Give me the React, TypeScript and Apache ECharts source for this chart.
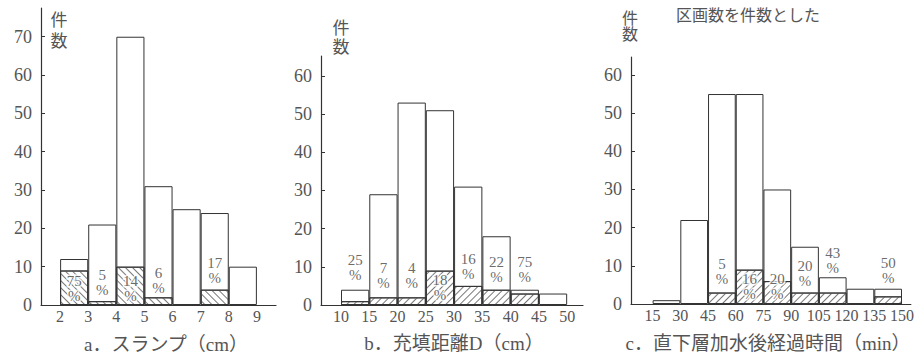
import React, { useEffect, useRef } from "react";
import * as echarts from "echarts";

// ---------- data ----------
const edgesA = [2, 3, 4, 5, 6, 7, 8, 9];
const totalA = [12, 21, 70, 31, 25, 24, 10];
const hatchA = [9, 1, 10, 2, 0, 4, 0];
const pctA = [75, 5, 14, 6, null, 17, null];
const pctYA = [4.4, 6, 4.4, 6.3, null, 9.1, null];
const yTicksA = [0, 10, 20, 30, 40, 50, 60, 70];

const edgesB = [10, 15, 20, 25, 30, 35, 40, 45, 50];
const totalB = [4, 29, 53, 51, 31, 18, 4, 3];
const hatchB = [1, 2, 2, 9, 5, 4, 3, 0];
const pctB = [25, 7, 4, 18, 16, 22, 75, null];
const pctYB = [9.7, 7.6, 7.6, 4.7, 10.2, 9.2, 9.2, null];
const yTicksB = [0, 10, 20, 30, 40, 50, 60];

const edgesC = [15, 30, 45, 60, 75, 90, 105, 120, 135, 150];
const totalC = [1, 22, 55, 55, 30, 15, 7, 4, 4];
const hatchC = [0, 0, 3, 9, 6, 3, 3, 0, 2];
const pctC = [null, null, 5, 16, 20, 20, 43, null, 50];
const pctYC = [null, null, 8.4, 4.7, 4.7, 7.9, 11.5, null, 8.9];
const yTicksC = [0, 10, 20, 30, 40, 50, 60];

const titleA = "a．スランプ（cm）";
const titleB = "b．充填距離D（cm）";
const titleC = "c．直下層加水後経過時間（min）";
const yName = "件\n数";
const note = "区画数を件数とした";

// ---------- styles ----------
const FONT = "Liberation Serif, Noto Sans CJK JP, serif";
const LINE = "#333";
const TXT = "#555";

function centers(edges: number[]) {
  return edges.slice(0, -1).map((e, i) => (e + edges[i + 1]) / 2);
}

function panelSeries(
  idx: number,
  edges: number[],
  total: number[],
  hatch: number[],
  pct: (number | null)[],
  pctY: (number | null)[],
  rot: number
) {
  const c = centers(edges);
  return [
    {
      type: "bar",
      xAxisIndex: idx,
      yAxisIndex: idx,
      z: 2,
      data: c.map((x, i) => [x, total[i]]),
      barWidth: "100%",
      barGap: "-100%",
      itemStyle: { color: "#fff", borderColor: LINE, borderWidth: 1 },
      silent: true,
    },
    {
      type: "bar",
      xAxisIndex: idx,
      yAxisIndex: idx,
      z: 3,
      data: c.map((x, i) => (hatch[i] > 0 ? [x, hatch[i]] : null)).filter(Boolean),
      barWidth: "100%",
      barGap: "-100%",
      itemStyle: {
        color: "#fff",
        borderColor: LINE,
        borderWidth: 1,
        decal: {
          symbol: "rect",
          symbolSize: 1,
          dashArrayX: [1, 0],
          dashArrayY: [1, 4],
          rotation: rot,
          color: "#777",
          backgroundColor: "#fff",
        },
      },
      silent: true,
    },
    {
      type: "scatter",
      xAxisIndex: idx,
      yAxisIndex: idx,
      z: 10,
      symbolSize: 1,
      itemStyle: { color: "rgba(0,0,0,0)" },
      data: c
        .map((x, i) => (pct[i] != null ? [x, pctY[i], pct[i]] : null))
        .filter(Boolean),
      label: {
        show: true,
        position: "inside",
        formatter: (p: any) => p.value[2] + "\n%",
        fontFamily: FONT,
        fontSize: 15,
        lineHeight: 15,
        color: "#444",
        textBorderColor: "#fff",
        textBorderWidth: 3,
      },
      silent: true,
    },
  ];
}

function xAxis(idx: number, min: number, max: number, edges: number[]) {
  return {
    type: "value",
    gridIndex: idx,
    min,
    max,
    axisLine: { show: true, lineStyle: { color: LINE, width: 1.2 } },
    axisTick: { show: false },
    splitLine: { show: false },
    axisLabel: {
      customValues: edges,
      fontFamily: FONT,
      fontSize: 16,
      color: TXT,
      margin: 3,
    },
  };
}

function yAxis(idx: number, max: number, ticks: number[]) {
  return {
    type: "value",
    gridIndex: idx,
    min: 0,
    max,
    axisLine: { show: true, lineStyle: { color: LINE, width: 1.2 } },
    axisTick: { show: true, inside: true, length: 4, customValues: ticks, lineStyle: { color: LINE } },
    splitLine: { show: false },
    axisLabel: {
      customValues: ticks,
      fontFamily: FONT,
      fontSize: 18,
      color: TXT,
      margin: 9,
    },
  };
}

function txt(x: number, y: number, text: string, size: number, extra: any = {}) {
  return {
    type: "text",
    x,
    y,
    style: {
      text,
      fontFamily: FONT,
      fontSize: size,
      fill: TXT,
      align: "center",
      verticalAlign: "middle",
      ...extra,
    },
    silent: true,
  };
}

export default function App() {
  const ref = useRef<HTMLDivElement>(null);
  useEffect(() => {
    if (!ref.current) return;
    const chart = echarts.init(ref.current, null, { renderer: "svg" });
    chart.setOption({
      animation: false,
      backgroundColor: "#fff",
      grid: [
        { left: 41, right: 641, top: 8, bottom: 58 },
        { left: 321, right: 334, top: 56, bottom: 58 },
        { left: 631, right: 2, top: 57, bottom: 59 },
      ],
      xAxis: [
        xAxis(0, 1.32, 9.68, edgesA),
        xAxis(1, 6.46, 52.8, edgesB),
        xAxis(2, 3.3, 154.8, edgesC),
      ],
      yAxis: [yAxis(0, 77.5, yTicksA), yAxis(1, 65.2, yTicksB), yAxis(2, 64.7, yTicksC)],
      series: [
        ...panelSeries(0, edgesA, totalA, hatchA, pctA, pctYA, Math.PI / 4),
        ...panelSeries(1, edgesB, totalB, hatchB, pctB, pctYB, -Math.PI / 4),
        ...panelSeries(2, edgesC, totalC, hatchC, pctC, pctYC, -Math.PI / 4),
      ],
      graphic: [
        txt(166, 344, titleA, 19),
        txt(454, 343, titleB, 19),
        txt(768, 343, titleC, 19),
        txt(59, 31, yName, 17, { lineHeight: 21 }),
        txt(341, 38, yName, 17, { lineHeight: 19 }),
        txt(630, 26, yName, 16, { lineHeight: 16 }),
        txt(748, 15, note, 16),
      ],
    });
    return () => chart.dispose();
  }, []);
  return (
    <div
      ref={ref}
      style={{ position: "absolute", left: 0, top: 0, width: 917, height: 363 }}
    />
  );
}
